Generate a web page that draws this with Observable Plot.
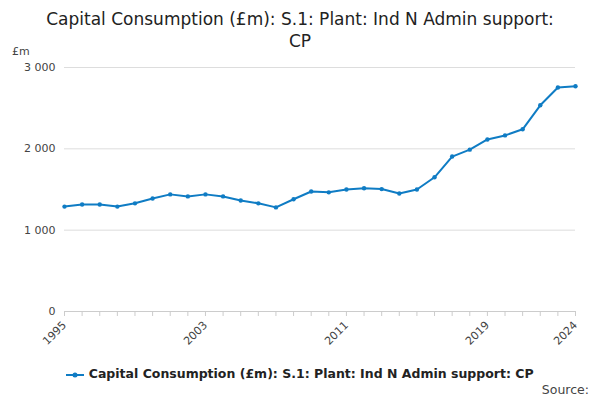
<!DOCTYPE html>
<html><head><meta charset="utf-8">
<script src="https://cdn.jsdelivr.net/npm/d3@7"></script>
<script src="https://cdn.jsdelivr.net/npm/@observablehq/plot@0.6"></script>
<style>
body{margin:0;font-family:"DejaVu Sans",sans-serif;width:600px;height:400px;overflow:hidden;background:#fff;position:relative}
#title{height:47px;text-align:center;font-size:17px;line-height:22px;color:#222;padding-top:8px;box-sizing:border-box}
#unit{position:absolute;top:45px;left:12px;font-size:11px;color:#444}
#legend{position:absolute;top:366px;left:0;width:600px;text-align:center;font-size:12.5px;font-weight:bold;color:#222}
#source{position:absolute;top:382px;right:11px;font-size:12.5px;color:#444}
</style></head><body>
<div id="title">Capital Consumption (£m): S.1: Plant: Ind N Admin support:<br>CP</div>
<div id="unit">£m</div>
<div id="chart"></div>
<div id="legend"><svg width="18" height="10" style="vertical-align:middle"><line x1="0" y1="5" x2="18" y2="5" stroke="#0f7cc4" stroke-width="2"/><circle cx="9" cy="5" r="2.5" fill="#0f7cc4"/></svg> Capital Consumption (£m): S.1: Plant: Ind N Admin support: CP</div>
<div id="source">Source:</div>
<script>
const years = d3.range(1995, 2025);
const values = [1290,1315,1315,1290,1330,1390,1440,1415,1440,1415,1365,1330,1280,1380,1475,1465,1500,1515,1505,1450,1500,1650,1905,1990,2115,2165,2240,2535,2755,2770];
const tickYears = [1995,2003,2011,2019,2024];
const data = years.map((y,i)=>({year:y,value:values[i]}));
const fmt = d => d3.format(",")(d).replace(/,/g," ");
const chart = Plot.plot({
  width:600,height:300,marginTop:20,marginBottom:36,marginLeft:64,marginRight:25,
  style:{fontFamily:"DejaVu Sans",fontSize:"11px",color:"#444"},
  x:{domain:[1995,2024],label:null},
  y:{domain:[0,3000],label:null},
  marks:[
    Plot.gridY([0,1000,2000,3000],{stroke:"#ddd",strokeOpacity:1}),
    Plot.axisY([0,1000,2000,3000],{tickFormat:fmt,tickSize:0,label:null}),
    Plot.ruleY([0],{stroke:"#ccc"}),
    Plot.axisX(years,{tickFormat:d=>tickYears.includes(d)?String(d):"",tickRotate:-45,tickSize:5,stroke:"#ccc",label:null}),
    Plot.line(data,{x:"year",y:"value",stroke:"#0f7cc4",strokeWidth:2}),
    Plot.dot(data,{x:"year",y:"value",fill:"#0f7cc4",r:2.2})
  ]
});
document.getElementById("chart").appendChild(chart);
</script>
</body></html>
